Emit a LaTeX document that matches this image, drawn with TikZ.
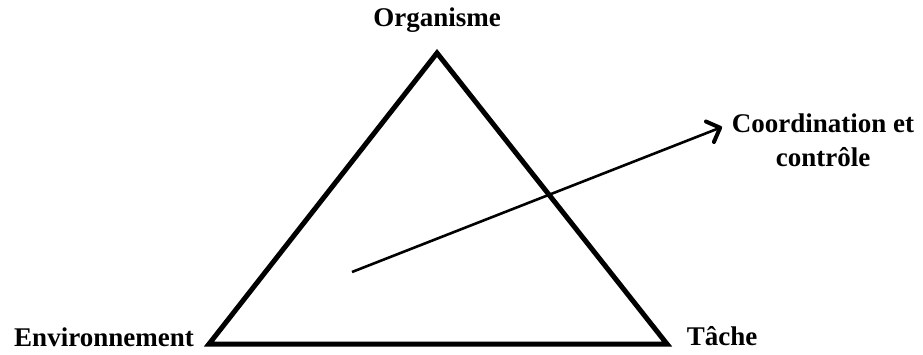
\documentclass[tikz,border=0pt]{standalone}
\usepackage{fontspec}
\setmainfont{Liberation Serif}
\usetikzlibrary{arrows.meta,positioning}

\begin{document}
\begin{tikzpicture}[x=1pt,y=-1pt,
        side/.style={line width=5pt, line join=miter},
        control/.style={-{Straight Barb[length=11pt,width=22pt,line width=4pt,round]}, line width=2.6pt},
        label/.style={font=\fontsize{27}{34}\selectfont\bfseries, align=center, inner sep=0pt}
    ]
        \useasboundingbox (0,0) rectangle (923,354);

        % Triangle corners
        \coordinate (org) at (437,53);
        \coordinate (env) at (209,344);
        \coordinate (tac) at (667,344);
        \draw[side] (org) -- (env) -- (tac) -- cycle;

        % Labels
        \node[label] (lorg) at (437,20) {Organisme};
        \node[label] (lenv) at (104,337) {Environnement};
        \node[label] (ltac) at (722,336) {Tâche};
        \node[label] (lcoo) at (823,140) {Coordination et\\contrôle};

        % Arrow
        \coordinate (from) at (352,272);
        \coordinate (to) at (722,127);
        \draw[control] (from) -- (to);

    \end{tikzpicture}
\end{document}
